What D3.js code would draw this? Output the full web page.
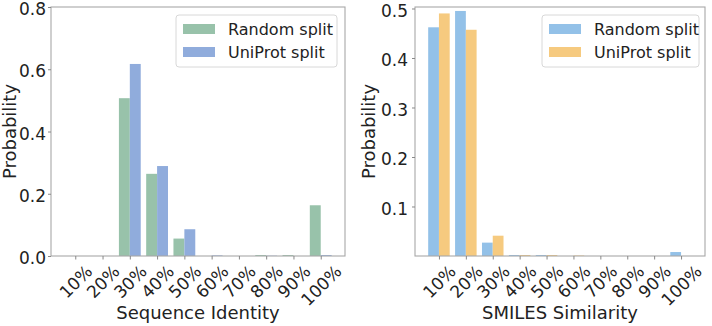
<!DOCTYPE html>
<html>
<head>
<meta charset="utf-8">
<script src="https://cdn.jsdelivr.net/npm/d3@7"></script>
<style>
  body { margin: 0; background: #fff; }
  text { font-family: "DejaVu Sans", sans-serif; fill: #222; }
</style>
</head>
<body>
<svg id="chart" width="712" height="326"></svg>
<script>
// categories shared by both panels
const categories = ["10%", "20%", "30%", "40%", "50%", "60%", "70%", "80%", "90%", "100%"];

// left panel: sequence identity
const seqRandom  = [0, 0, 0.507, 0.264, 0.056, 0, 0, 0.003, 0.003, 0.163];
const seqUniprot = [0, 0, 0.617, 0.289, 0.086, 0.002, 0, 0.001, 0, 0.003];
const seqTicks = [0, 0.2, 0.4, 0.6, 0.8];

// right panel: SMILES similarity
const smiRandom  = [0.462, 0.495, 0.027, 0.002, 0.002, 0, 0, 0, 0, 0.008];
const smiUniprot = [0.490, 0.457, 0.041, 0.002, 0.002, 0.001, 0, 0, 0, 0];
const smiTicks = [0.1, 0.2, 0.3, 0.4, 0.5];

const seriesNames = ["Random split", "UniProt split"];

const svg = d3.select("#chart");

function drawPanel(cfg) {
    let g = svg.append("g");
    let x = d3.scaleLinear().domain([-0.89, 9.89]).range([cfg.left, cfg.right]);
    let y = d3.scaleLinear().domain([0, cfg.ymax]).range([cfg.bottom, cfg.top]);
    let barW = x(0.4) - x(0);

    // bars
    let series = [cfg.a, cfg.b];
    series.forEach(function (vals, s) {
        g.append("g").selectAll("rect")
            .data(vals)
            .enter()
            .append("rect")
            .attr("x", function (d, i) { return x(i + (s === 0 ? -0.4 : 0)); })
            .attr("y", function (d) { return y(d); })
            .attr("width", barW)
            .attr("height", function (d) { return y(0) - y(d); })
            .attr("fill", cfg.colors[s]);
    });

    // frame
    g.append("rect")
        .attr("x", cfg.left).attr("y", cfg.top)
        .attr("width", cfg.right - cfg.left).attr("height", cfg.bottom - cfg.top)
        .attr("fill", "none").attr("stroke", "#a8a8a8").attr("stroke-width", 1.1);

    // y axis
    let yAxis = d3.axisLeft(y).tickValues(cfg.yticks).tickFormat(d3.format(".1f"))
        .tickSize(3).tickPadding(cfg.ypad);
    let ya = g.append("g").attr("transform", "translate(" + cfg.left + ",0)").call(yAxis);
    ya.select(".domain").remove();
    ya.selectAll(".tick line").attr("stroke", "#888");
    ya.selectAll(".tick text").style("font-size", cfg.ytickFont + "px").attr("fill", "#222")
        .attr("dy", "0.45em");

    // x axis, labels rotated 45 with rotated box centred under the tick
    let xAxis = d3.axisBottom(x).tickValues(d3.range(categories.length))
        .tickFormat(function (i) { return categories[i]; }).tickSize(3.5);
    let xa = g.append("g").attr("transform", "translate(0," + cfg.bottom + ")").call(xAxis);
    xa.select(".domain").remove();
    xa.selectAll(".tick line").attr("stroke", "#888");
    let fs = 17;
    xa.selectAll(".tick text").each(function () {
        let t = d3.select(this);
        t.style("font-size", fs + "px").attr("fill", "#222").attr("y", null).attr("dy", null);
        let w = this.getComputedTextLength();
        let h = fs * 0.9;
        let cy = 7 + (w + h) * Math.SQRT1_2 / 2;
        t.attr("text-anchor", "middle")
            .attr("dominant-baseline", "central")
            .attr("transform", "translate(0," + cy + ") rotate(-45)");
    });

    // axis titles
    g.append("text")
        .attr("x", (cfg.left + cfg.right) / 2).attr("y", 319)
        .attr("text-anchor", "middle").style("font-size", "18px")
        .text(cfg.xlabel);
    g.append("text")
        .attr("transform", "translate(" + cfg.ylabelX + "," + (cfg.top + cfg.bottom) / 2 + ") rotate(-90)")
        .attr("text-anchor", "middle").style("font-size", "18px")
        .text("Probability");

    // legend
    let lg = g.append("g").attr("transform", "translate(" + cfg.legX + ",15)");
    lg.append("rect")
        .attr("width", cfg.legW).attr("height", 52).attr("rx", 3)
        .attr("fill", "#fff").attr("fill-opacity", 0.8)
        .attr("stroke", "#d8d8d8");
    seriesNames.forEach(function (name, s) {
        lg.append("rect")
            .attr("x", 7).attr("y", 9 + s * 23)
            .attr("width", 32).attr("height", 10)
            .attr("fill", cfg.colors[s]);
        lg.append("text")
            .attr("x", 52).attr("y", 14 + s * 23)
            .attr("dy", "0.35em")
            .style("font-size", "16px")
            .text(name);
    });
}

drawPanel({
    left: 51, right: 345, top: 7, bottom: 256, ymax: 0.8,
    a: seqRandom, b: seqUniprot, yticks: seqTicks, ytickFont: 17, ypad: 2,
    colors: ["#98c2aa", "#90acdc"],
    xlabel: "Sequence Identity", ylabelX: 16,
    legX: 176, legW: 161
});

drawPanel({
    left: 415, right: 705, top: 7, bottom: 256, ymax: 0.503,
    a: smiRandom, b: smiUniprot, yticks: smiTicks, ytickFont: 17, ypad: 4,
    colors: ["#93c1e8", "#f6ca7f"],
    xlabel: "SMILES Similarity", ylabelX: 375,
    legX: 542, legW: 157
});
</script>
</body>
</html>
